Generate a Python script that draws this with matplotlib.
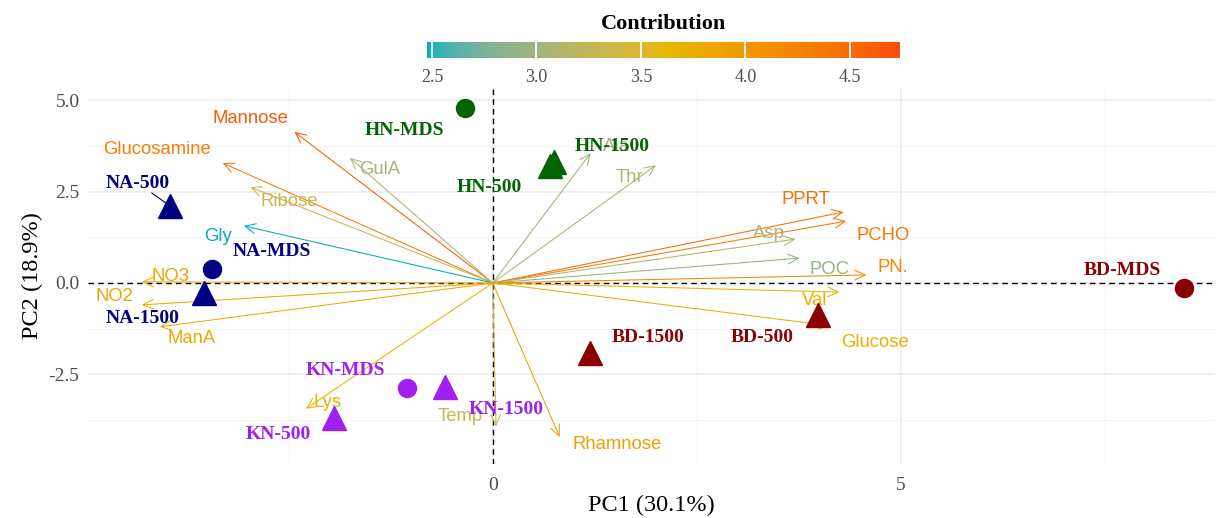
import numpy as np
import matplotlib
matplotlib.use("Agg")
import matplotlib.pyplot as plt
from matplotlib.colors import ListedColormap, Normalize, to_rgb
from matplotlib.ticker import MultipleLocator, FuncFormatter

# ---------------- data ----------------
var_names = ['Mannose', 'Glucosamine', 'GulA', 'Ribose', 'Gly', 'NO3', 'NO2', 'ManA',
             'Lys', 'Temp', 'Rhamnose', 'Ala', 'Thr', 'PPRT', 'PCHO', 'Asp', 'POC',
             'PN.', 'Val', 'Glucose']
var_pc1 = [-2.43, -3.31, -1.75, -2.97, -3.05, -4.30, -4.30, -4.08,
           -2.29, 0.04, 0.82, 1.20, 2.00, 4.30, 4.33, 3.71, 3.76,
           4.58, 4.25, 4.14]
var_pc2 = [4.13, 3.28, 3.42, 2.62, 1.56, 0.03, -0.60, -1.20,
           -3.44, -3.92, -4.21, 3.55, 3.22, 1.94, 1.69, 1.20, 0.68,
           0.22, -0.25, -1.17]
var_contrib = [4.65, 4.30, 3.05, 3.30, 2.48, 3.80, 3.82, 3.78,
               3.65, 3.30, 3.95, 3.00, 3.05, 4.45, 4.35, 3.10, 2.90,
               4.20, 3.70, 3.72]
var_lab_x = [-2.97, -4.12, -1.38, -2.49, -3.37, -3.95, -4.63, -3.69,
             -2.03, -0.40, 1.52, 1.52, 1.68, 3.84, 4.78, 3.39, 4.13,
             4.90, 3.95, 4.69]
var_lab_y = [4.51, 3.66, 3.09, 2.24, 1.26, 0.19, -0.38, -1.53,
             -3.28, -3.66, -4.42, 3.72, 2.87, 2.27, 1.31, 1.34, 0.38,
             0.41, -0.47, -1.64]

samp_names = ['HN-MDS', 'HN-500', 'HN-1500', 'NA-500', 'NA-MDS', 'NA-1500',
              'KN-MDS', 'KN-1500', 'KN-500', 'BD-1500', 'BD-500', 'BD-MDS']
samp_pc1 = [-0.34, 0.70, 0.75, -3.95, -3.44, -3.54, -1.05, -0.58, -1.94, 1.19, 3.98, 8.47]
samp_pc2 = [4.78, 3.20, 3.32, 2.10, 0.38, -0.27, -2.87, -2.84, -3.69, -1.91, -0.87, -0.14]
samp_group = ['HN', 'HN', 'HN', 'NA', 'NA', 'NA', 'KN', 'KN', 'KN', 'BD', 'BD', 'BD']
samp_type = ['MDS', '500', '1500', '500', 'MDS', '1500', 'MDS', '1500', '500', '1500', '500', 'MDS']
samp_lab_x = [-1.08, -0.04, 1.46, -4.35, -2.71, -4.29, -1.81, 0.16, -2.63, 1.90, 3.30, 7.71]
samp_lab_y = [4.18, 2.62, 3.72, 2.73, 0.85, -0.96, -2.38, -3.47, -4.15, -1.50, -1.48, 0.33]

group_colors = {'HN': '#006400', 'NA': '#000080', 'KN': '#A020F0', 'BD': '#8B0000'}
type_markers = {'MDS': 'o', '500': '^', '1500': '^'}
gradient_colors = ['#00AFBB', '#E7B800', '#FC4E07']
cbar_ticks = [2.5, 3.0, 3.5, 4.0, 4.5]


# ---------------- Lab-space gradient (as ggplot does) ----------------
def _srgb_to_lab(rgb):
    rgb = np.asarray(rgb, float)
    lin = np.where(rgb <= 0.04045, rgb / 12.92, ((rgb + 0.055) / 1.055) ** 2.4)
    M = np.array([[0.4124, 0.3576, 0.1805], [0.2126, 0.7152, 0.0722], [0.0193, 0.1192, 0.9505]])
    xyz = M @ lin / np.array([0.95047, 1.0, 1.08883])
    f = np.where(xyz > 0.008856, np.cbrt(xyz), 7.787 * xyz + 16 / 116)
    return np.array([116 * f[1] - 16, 500 * (f[0] - f[1]), 200 * (f[1] - f[2])])


def _lab_to_srgb(lab):
    L, a, b = lab
    fy = (L + 16) / 116
    fx = fy + a / 500
    fz = fy - b / 200
    f = np.array([fx, fy, fz])
    xyz = np.where(f ** 3 > 0.008856, f ** 3, (f - 16 / 116) / 7.787) * np.array([0.95047, 1.0, 1.08883])
    Minv = np.linalg.inv(np.array([[0.4124, 0.3576, 0.1805], [0.2126, 0.7152, 0.0722], [0.0193, 0.1192, 0.9505]]))
    lin = np.clip(Minv @ xyz, 0, 1)
    rgb = np.where(lin <= 0.0031308, 12.92 * lin, 1.055 * lin ** (1 / 2.4) - 0.055)
    return np.clip(rgb, 0, 1)


labs = [_srgb_to_lab(to_rgb(c)) for c in gradient_colors]
cols = []
for t in np.linspace(0, 1, 256):
    seg = min(int(t * 2), 1)
    u = t * 2 - seg
    cols.append(_lab_to_srgb(labs[seg] * (1 - u) + labs[seg + 1] * u))
cmap = ListedColormap(cols)
norm = Normalize(vmin=2.476, vmax=4.74)

# ---------------- figure ----------------
SERIF = ['Liberation Serif', 'DejaVu Serif']
SANS = ['Liberation Sans', 'DejaVu Sans']

fig = plt.figure(figsize=(12.25, 5.18), dpi=100)
ax = fig.add_axes([0.0718, 0.1042, 0.92, 0.7259])
ax.set_xlim(-4.96, 8.85)
ax.set_ylim(-4.95, 5.33)

for s in ax.spines.values():
    s.set_visible(False)
ax.xaxis.set_major_locator(MultipleLocator(5))
ax.xaxis.set_minor_locator(MultipleLocator(2.5))
ax.yaxis.set_major_locator(MultipleLocator(2.5))
ax.yaxis.set_minor_locator(MultipleLocator(1.25))
ax.grid(which='major', color='#EBEBEB', lw=1.1, zorder=0)
ax.grid(which='minor', color='#F2F2F2', lw=0.6, zorder=0)
ax.set_axisbelow(True)
ax.tick_params(which='both', length=0)
ax.tick_params(axis='both', labelsize=14, labelcolor='#4D4D4D')
ax.tick_params(axis='x', pad=9)
ax.tick_params(axis='y', pad=6)
ax.xaxis.set_major_formatter(FuncFormatter(lambda v, p: f'{v:g}'))
ax.yaxis.set_major_formatter(FuncFormatter(lambda v, p: f'{v:.1f}'))
for lab in ax.get_xticklabels() + ax.get_yticklabels():
    lab.set_family(SERIF)

ax.set_xlabel('PC1 (30.1%)', family=SERIF, fontsize=17.5, labelpad=1)
ax.set_ylabel('PC2 (18.9%)', family=SERIF, fontsize=17.5, labelpad=4)

ax.axhline(0, color='black', lw=1.0, ls=(0, (4, 3)), zorder=1)
ax.axvline(0, color='black', lw=1.0, ls=(0, (4, 3)), zorder=1)

# variable arrows
for name, x, y, c, lx, ly in zip(var_names, var_pc1, var_pc2, var_contrib, var_lab_x, var_lab_y):
    col = cmap(norm(c))
    ax.annotate('', xy=(x, y), xytext=(0, 0),
                arrowprops=dict(arrowstyle='->,head_length=0.75,head_width=0.35',
                                color=col, lw=0.75, shrinkA=0, shrinkB=0),
                zorder=2)
    ax.text(lx, ly, name, color=col, fontsize=13.3, family=SANS,
            ha='center', va='center', zorder=3)

# sample points
for x, y, g, t in zip(samp_pc1, samp_pc2, samp_group, samp_type):
    ms = 13 if type_markers[t] == 'o' else 17
    ax.plot([x], [y], marker=type_markers[t], ms=ms, color=group_colors[g],
            mec=group_colors[g], ls='none', zorder=4)

# sample labels
for name, x, y, g, lx, ly in zip(samp_names, samp_pc1, samp_pc2, samp_group, samp_lab_x, samp_lab_y):
    ax.text(lx, ly, name, color=group_colors[g], fontsize=14, family=SERIF,
            fontweight='bold', ha='center', va='center', zorder=5)
    if name == 'NA-500':
        dx, dy = x - lx, y - ly
        ax.plot([lx + 0.43 * dx, lx + 0.86 * dx], [ly + 0.43 * dy, ly + 0.86 * dy],
                color=group_colors[g], lw=0.8, zorder=4)

# colorbar
cax = fig.add_axes([0.3486, 0.888, 0.386, 0.031])
sm = matplotlib.cm.ScalarMappable(norm=norm, cmap=cmap)
cb = fig.colorbar(sm, cax=cax, orientation='horizontal')
cb.outline.set_visible(False)
cb.set_ticks(cbar_ticks)
cb.set_ticklabels([f'{v:.1f}' for v in cbar_ticks])
cax.tick_params(length=0, labelsize=13, labelcolor='#4D4D4D', pad=8)
for lab in cax.get_xticklabels():
    lab.set_family(SERIF)
for v in cbar_ticks:
    cax.axvline(v, color='white', lw=1.3)
cax.set_title('Contribution', family=SERIF, fontsize=16, fontweight='bold', pad=9)

fig.savefig('out.png', dpi=100)
